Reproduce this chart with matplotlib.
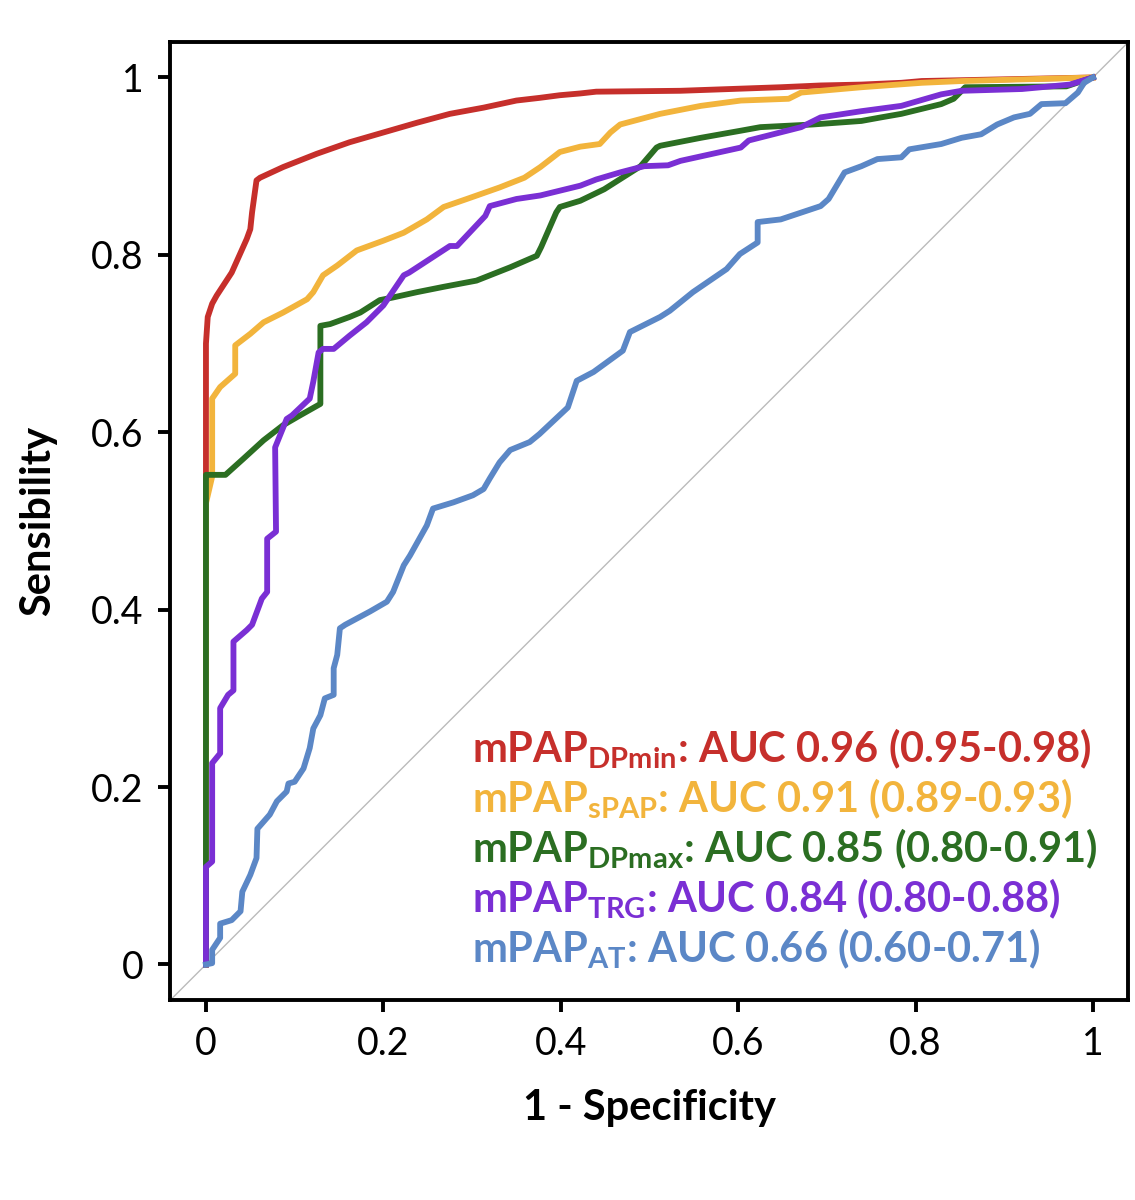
import matplotlib
matplotlib.use("Agg")
import matplotlib.pyplot as plt

plt.rcParams['font.family'] = ['Lato', 'DejaVu Sans']
plt.rcParams['mathtext.fontset'] = 'custom'
plt.rcParams['mathtext.rm'] = 'Lato:bold'
plt.rcParams['mathtext.bf'] = 'Lato:bold'

# ROC curves (1 - specificity, sensitivity)
fpr_dpmin = [0, 0, 0.002, 0.007, 0.012, 0.029, 0.046, 0.050, 0.052, 0.057, 0.061, 0.087, 0.125,
             0.162, 0.2, 0.238, 0.275, 0.313, 0.35, 0.376, 0.399, 0.422, 0.44, 0.535, 0.648, 0.693,
             0.739, 0.784, 0.807, 1.0]
tpr_dpmin = [0, 0.70, 0.73, 0.745, 0.754, 0.78, 0.818, 0.829, 0.848, 0.884, 0.887, 0.899, 0.914,
             0.927, 0.938, 0.949, 0.959, 0.966, 0.974, 0.977, 0.98, 0.982, 0.984, 0.985, 0.989, 0.991,
             0.992, 0.994, 0.996, 1.0]

fpr_spap = [0, 0, 0.007, 0.007, 0.016, 0.033, 0.033, 0.05, 0.065, 0.087, 0.114, 0.121, 0.132, 0.148,
            0.17, 0.2, 0.223, 0.249, 0.268, 0.294, 0.331, 0.359, 0.377, 0.399, 0.422, 0.444, 0.456,
            0.467, 0.512, 0.558, 0.603, 0.657, 0.671, 0.739, 0.807, 0.852, 1.0]
tpr_spap = [0, 0.52, 0.55, 0.638, 0.651, 0.666, 0.698, 0.711, 0.724, 0.735, 0.750, 0.758, 0.777, 0.788,
            0.805, 0.816, 0.825, 0.840, 0.854, 0.863, 0.876, 0.887, 0.899, 0.916, 0.922, 0.925, 0.938,
            0.947, 0.959, 0.968, 0.974, 0.976, 0.983, 0.989, 0.994, 0.996, 1.0]

fpr_dpmax = [0, 0, 0.022, 0.042, 0.065, 0.087, 0.106, 0.129, 0.129, 0.14, 0.162, 0.174, 0.196, 0.211,
             0.238, 0.268, 0.305, 0.343, 0.373, 0.378, 0.395, 0.399, 0.422, 0.449, 0.49, 0.508, 0.512,
             0.558, 0.603, 0.625, 0.684, 0.739, 0.761, 0.784, 0.829, 0.843, 0.856, 0.97, 1.0]
tpr_dpmax = [0, 0.552, 0.552, 0.570, 0.591, 0.608, 0.619, 0.632, 0.720, 0.722, 0.730, 0.735, 0.749, 0.752,
             0.758, 0.764, 0.771, 0.786, 0.799, 0.809, 0.848, 0.854, 0.861, 0.874, 0.9, 0.921, 0.923,
             0.932, 0.94, 0.944, 0.947, 0.951, 0.955, 0.959, 0.97, 0.976, 0.989, 0.99, 1.0]

fpr_trg = [0, 0, 0.007, 0.007, 0.016, 0.016, 0.025, 0.031, 0.031, 0.046, 0.052, 0.063, 0.069, 0.069,
           0.079, 0.078, 0.091, 0.097, 0.117, 0.121, 0.127, 0.132, 0.144, 0.162, 0.181, 0.2, 0.223,
           0.229, 0.275, 0.283, 0.315, 0.32, 0.35, 0.377, 0.422, 0.44, 0.467, 0.494, 0.521, 0.535,
           0.603, 0.612, 0.671, 0.693, 0.739, 0.784, 0.829, 0.852, 0.92, 0.974, 1.0]
tpr_trg = [0, 0.11, 0.116, 0.227, 0.238, 0.289, 0.304, 0.309, 0.364, 0.377, 0.383, 0.4125, 0.42, 0.48,
           0.488, 0.583, 0.615, 0.619, 0.638, 0.657, 0.690, 0.694, 0.694, 0.709, 0.724, 0.743, 0.777,
           0.78, 0.81, 0.81, 0.844, 0.855, 0.863, 0.867, 0.878, 0.885, 0.893, 0.9, 0.901, 0.906,
           0.921, 0.929, 0.944, 0.955, 0.962, 0.968, 0.981, 0.985, 0.987, 0.992, 1.0]

fpr_at = [0, 0.007, 0.007, 0.012, 0.016, 0.016, 0.029, 0.039, 0.041, 0.05, 0.057, 0.058, 0.072, 0.08,
          0.091, 0.093, 0.1, 0.11, 0.117, 0.121, 0.129, 0.134, 0.144, 0.144, 0.148, 0.151, 0.157, 0.185,
          0.204, 0.211, 0.223, 0.23, 0.249, 0.256, 0.279, 0.301, 0.313, 0.32, 0.331, 0.343, 0.365,
          0.376, 0.408, 0.418, 0.437, 0.47, 0.478, 0.512, 0.523, 0.549, 0.587, 0.602, 0.622, 0.622,
          0.648, 0.693, 0.702, 0.72, 0.739, 0.757, 0.784, 0.793, 0.829, 0.852, 0.874, 0.892, 0.911,
          0.929, 0.942, 0.969, 0.983, 0.99, 1.0]
tpr_at = [0, 0.0015, 0.0165, 0.024, 0.030, 0.046, 0.050, 0.060, 0.082, 0.101, 0.12, 0.153, 0.169, 0.184,
          0.195, 0.204, 0.206, 0.221, 0.244, 0.266, 0.281, 0.30, 0.304, 0.334, 0.349, 0.379, 0.383, 0.398,
          0.409, 0.42, 0.45, 0.461, 0.495, 0.514, 0.521, 0.529, 0.536, 0.548, 0.566, 0.58, 0.589,
          0.598, 0.628, 0.658, 0.668, 0.692, 0.713, 0.73, 0.737, 0.758, 0.784, 0.801, 0.814, 0.837,
          0.840, 0.855, 0.863, 0.893, 0.9, 0.908, 0.91, 0.919, 0.925, 0.932, 0.936, 0.947, 0.955,
          0.959, 0.970, 0.971, 0.983, 0.994, 1.0]

labels = [r'mPAP$_{\mathrm{DPmin}}$: AUC 0.96 (0.95-0.98)',
          r'mPAP$_{\mathrm{sPAP}}$: AUC 0.91 (0.89-0.93)',
          r'mPAP$_{\mathrm{DPmax}}$: AUC 0.85 (0.80-0.91)',
          r'mPAP$_{\mathrm{TRG}}$: AUC 0.84 (0.80-0.88)',
          r'mPAP$_{\mathrm{AT}}$: AUC 0.66 (0.60-0.71)']
colors = ['#C62F2B', '#F2B43C', '#2B6E22', '#7A2FD4', '#5B87C6']
ticks = [0, 0.2, 0.4, 0.6, 0.8, 1]
tick_labels = ['0', '0.2', '0.4', '0.6', '0.8', '1']

curves = [(fpr_dpmin, tpr_dpmin), (fpr_spap, tpr_spap), (fpr_dpmax, tpr_dpmax),
          (fpr_trg, tpr_trg), (fpr_at, tpr_at)]

fig = plt.figure(figsize=(11.35, 12), dpi=100)
ax = fig.add_axes([0.1502, 0.1667, 0.844, 0.7983])

ax.plot([-0.1, 1.1], [-0.1, 1.1], color='#BBBBBB', lw=1.0, zorder=1)
for (fx, ty), c in zip(curves, colors):
    ax.plot(fx, ty, color=c, lw=4.2, zorder=2)

ax.set_xlim(-0.04, 1.04)
ax.set_ylim(-0.04, 1.04)
ax.set_xticks(ticks)
ax.set_xticklabels(tick_labels)
ax.set_yticks(ticks)
ax.set_yticklabels(tick_labels)
for side in ax.spines.values():
    side.set_linewidth(2.8)
ax.tick_params(axis='both', length=8.5, width=2.8, labelsize=27, colors='black')
ax.tick_params(axis='x', pad=10)
ax.tick_params(axis='y', pad=11)

ax.set_xlabel('1 - Specificity', fontsize=30, fontweight='bold', labelpad=20)
ax.set_ylabel('Sensibility', fontsize=30, fontweight='bold', labelpad=24)

y0 = 0.2287
step = 0.0564
for i, (lab, c) in enumerate(zip(labels, colors)):
    ax.text(0.30, y0 - i * step, lab, color=c, fontsize=30, fontweight='bold',
            va='baseline', ha='left', zorder=3)

fig.savefig('out.png', dpi=100)
